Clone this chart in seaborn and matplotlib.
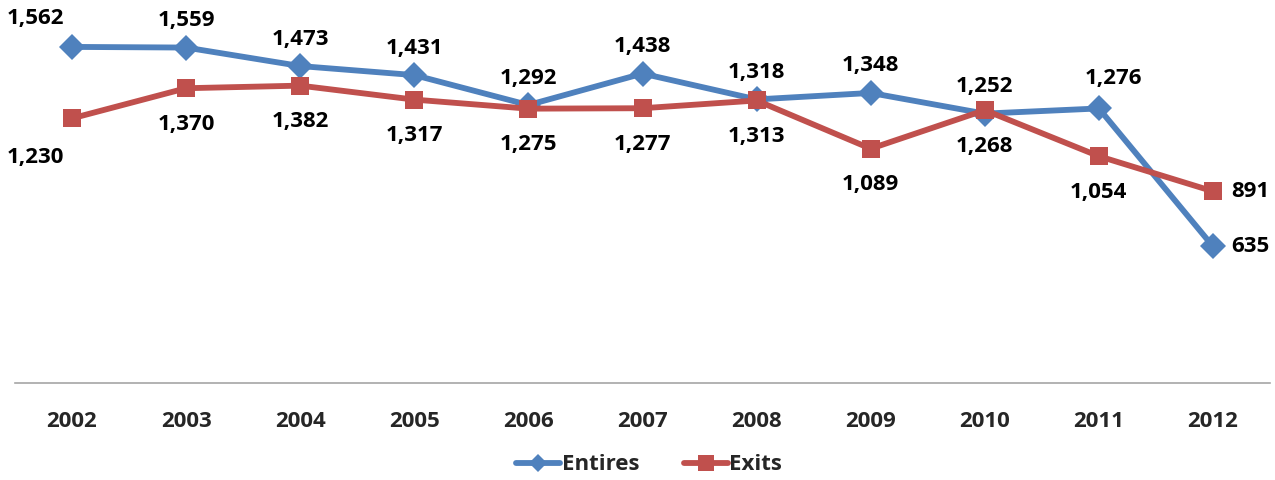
import matplotlib
matplotlib.use("Agg")
import matplotlib.pyplot as plt
import seaborn as sns
import pandas as pd

years = [2002, 2003, 2004, 2005, 2006, 2007, 2008, 2009, 2010, 2011, 2012]
entires = [1562, 1559, 1473, 1431, 1292, 1438, 1318, 1348, 1252, 1276, 635]
exits = [1230, 1370, 1382, 1317, 1275, 1277, 1313, 1089, 1268, 1054, 891]

blue = "#4F81BD"
red = "#C0504D"

sns.set_theme(style="white")
plt.rcParams['font.family'] = ['Open Sans', 'DejaVu Sans']

df = pd.DataFrame({
    "year": years * 2,
    "value": entires + exits,
    "series": ["Entires"] * len(years) + ["Exits"] * len(years),
})

fig = plt.figure(figsize=(12.75, 4.8), dpi=100)
ax = fig.add_axes([15 / 1275, 1 - 383 / 480, 1255 / 1275, 383 / 480])

sns.lineplot(
    data=df, x="year", y="value", hue="series", style="series",
    markers={"Entires": "D", "Exits": "s"}, dashes=False,
    palette={"Entires": blue, "Exits": red},
    linewidth=4.2, markersize=13.5, markeredgewidth=0,
    ax=ax, legend=False,
)

# label offsets in pixels (dx, dy); defaults: Entires above, Exits below
ent_off = {2002: (-37, 28), 2011: (15, 30), 2012: (37, 0)}
exi_off = {2002: (-37, -39), 2012: (37, 0)}
fs = 16
for i, yr in enumerate(years):
    dx, dy = ent_off.get(yr, (0, 27))
    ax.annotate("{:,}".format(entires[i]), (yr, entires[i]), xytext=(dx, dy),
                textcoords="offset pixels", ha="center", va="center",
                fontsize=fs, fontweight="bold", color="black")
    dx, dy = exi_off.get(yr, (0, -36))
    ax.annotate("{:,}".format(exits[i]), (yr, exits[i]), xytext=(dx, dy),
                textcoords="offset pixels", ha="center", va="center",
                fontsize=fs, fontweight="bold", color="black")

ax.set_xlim(2001.5, 2012.5)
ax.set_ylim(0, 1780)
ax.set_xticks(years)
ax.set_xticklabels([str(y) for y in years], fontsize=fs, fontweight="bold")
ax.set_yticks([])
ax.set_xlabel("")
ax.set_ylabel("")
ax.tick_params(axis="x", length=0, pad=20)
for s in ["top", "right", "left"]:
    ax.spines[s].set_visible(False)
ax.spines["bottom"].set_color("#A6A6A6")
ax.spines["bottom"].set_linewidth(1.2)
ax.patch.set_alpha(0)

handles = [
    plt.Line2D([], [], color=blue, marker="D", linewidth=4.2, markersize=9, markeredgewidth=0),
    plt.Line2D([], [], color=red, marker="s", linewidth=4.2, markersize=12, markeredgewidth=0),
]
fig.legend(handles, ["Entires", "Exits"], loc="center", bbox_to_anchor=(649 / 1275, 1 - 465 / 480),
           ncol=2, frameon=False, handlelength=2.0, handletextpad=0.05, columnspacing=2.0,
           prop={"size": fs, "weight": "bold"})

fig.savefig("out.png", dpi=100)
